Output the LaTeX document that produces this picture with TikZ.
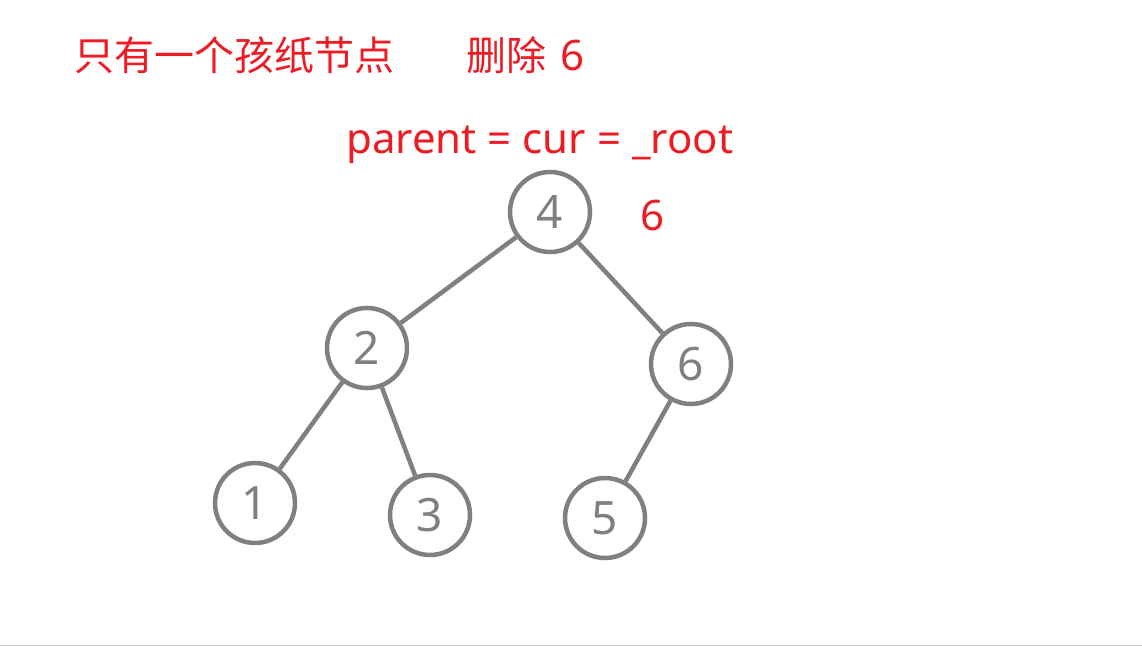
\documentclass[tikz,border=0pt]{standalone}
\usepackage{fontspec}
\setmainfont{Noto Sans}
\newfontfamily\cjk{Noto Sans CJK SC}
\definecolor{notered}{RGB}{237,28,36}
\definecolor{treegray}{RGB}{128,128,128}
\definecolor{edgegray}{RGB}{200,200,200}
\begin{document}
\begin{tikzpicture}[x=1pt, y=-1pt,
  tnode/.style={circle, draw=treegray, line width=4.5pt, minimum size=80pt, inner sep=0pt,
    text=treegray, font=\fontsize{46}{46}\selectfont},
  tedge/.style={draw=treegray, line width=4.5pt},
  note/.style={text=notered, inner sep=0pt, anchor=base west, font=\fontsize{42}{42}\selectfont}]
  \useasboundingbox (0,0) rectangle (1142,647);
  \fill[white] (0,0) rectangle (1142,647);
  \draw[edgegray, line width=1.5pt] (0,645.5) -- (1142,645.5);
  % Notes
  \node[note] (title) at (74,71) {\cjk\fontsize{40}{40}\selectfont 只有一个孩纸节点};
  \node[note] (del) at (466,71) {{\cjk\fontsize{40}{40}\selectfont 删除}\hspace{14pt}6};
  \node[note] (code) at (346,154) {parent = cur = \_root};
  \node[note] (key) at (640,230) {6};
  % Nodes
  \node[tnode] (n4) at (550,212) {4};
  \node[tnode] (n2) at (367,348) {2};
  \node[tnode] (n6) at (691,364) {6};
  \node[tnode] (n1) at (255,503) {1};
  \node[tnode] (n3) at (430,515) {3};
  \node[tnode] (n5) at (605,518) {5};
  % Edges
  \draw[tedge] (n4) -- (n2);
  \draw[tedge] (n4) -- (n6);
  \draw[tedge] (n2) -- (n1);
  \draw[tedge] (n2) -- (n3);
  \draw[tedge] (n6) -- (n5);
\end{tikzpicture}
\end{document}
